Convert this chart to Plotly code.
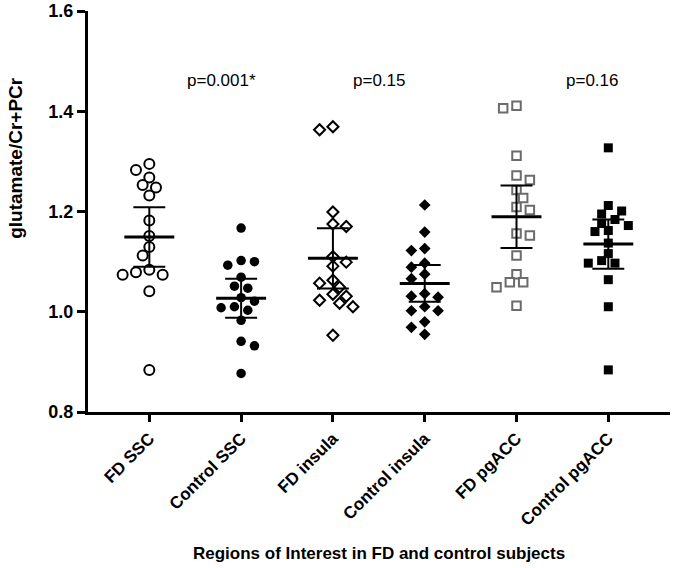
import numpy as np
import plotly.graph_objects as go

# ---------------- data ----------------
categories = ["FD SSC", "Control SSC", "FD insula", "Control insula", "FD pgACC", "Control pgACC"]

fd_ssc = [1.295, 1.283, 1.268, 1.253, 1.248, 1.232, 1.182, 1.151, 1.129, 1.112,
          1.079, 1.074, 1.074, 1.084, 1.041, 0.884]
control_ssc = [1.167, 1.100, 1.093, 1.102, 1.069, 1.051, 1.047, 1.028, 1.021, 1.008,
               1.003, 1.010, 0.983, 0.941, 0.932, 0.877]
fd_insula = [1.369, 1.363, 1.199, 1.175, 1.170, 1.110, 1.099, 1.091, 1.063, 1.057,
             1.049, 1.035, 1.031, 1.023, 1.017, 1.010, 0.953]
control_insula = [1.213, 1.159, 1.126, 1.122, 1.097, 1.089, 1.075, 1.066, 1.036, 1.029,
                  1.031, 1.010, 1.002, 1.002, 0.980, 0.969, 0.955]
fd_pgacc = [1.406, 1.411, 1.311, 1.272, 1.263, 1.243, 1.227, 1.203, 1.209, 1.156,
            1.152, 1.112, 1.075, 1.059, 1.049, 1.059, 1.012]
control_pgacc = [1.327, 1.212, 1.195, 1.201, 1.184, 1.176, 1.172, 1.162, 1.160, 1.137,
                 1.116, 1.097, 1.097, 1.102, 1.064, 1.010, 0.884]

p_values = ["p=0.001*", "p=0.15", "p=0.16"]
y_ticks = [0.8, 1.0, 1.2, 1.4, 1.6]

groups = [fd_ssc, control_ssc, fd_insula, control_insula, fd_pgacc, control_pgacc]

# two-sided 95% t critical values by degrees of freedom
T95 = {15: 2.131, 16: 2.120}

# ---------------- layout geometry ----------------
W, H = 675, 568
ML, MR, MT, MB = 88, 5, 11, 156
X_RANGE = [-0.668, 5.672]
Y_RANGE = [0.8, 1.6]
px_per_x = (W - ML - MR) / (X_RANGE[1] - X_RANGE[0])
px_per_y = (H - MT - MB) / (Y_RANGE[1] - Y_RANGE[0])


def swarm(values, d=9.5, step=6.67):
    vals = np.asarray(values, dtype=float)
    order = np.argsort(-vals, kind="stable")
    placed = []
    offsets = np.zeros(len(vals))
    for n, i in enumerate(order):
        y = vals[i] * px_per_y
        sign = -1 if n % 2 else 1
        cands = [0]
        for k in range(1, 8):
            cands += [sign * k * step, -sign * k * step]
        for x in cands:
            if all((x - a) ** 2 + (y - b) ** 2 >= d * d for a, b in placed):
                break
        placed.append((x, y))
        offsets[i] = x / px_per_x
    return offsets


styles = [
    dict(symbol="circle", size=10, color="white", line=dict(color="black", width=2)),
    dict(symbol="circle", size=9.5, color="black", line=dict(color="black", width=0)),
    dict(symbol="diamond", size=8.5, color="white", line=dict(color="black", width=2)),
    dict(symbol="diamond", size=9, color="black", line=dict(color="black", width=0)),
    dict(symbol="square", size=8.5, color="white", line=dict(color="#6b6b6b", width=2)),
    dict(symbol="square", size=9, color="black", line=dict(color="black", width=0)),
]

fig = go.Figure()

mean_x, mean_y, err_x, err_y = [], [], [], []
for gi, vals in enumerate(groups):
    off = swarm(vals)
    xs = gi + off
    fig.add_trace(go.Scatter(x=xs, y=vals, mode="markers", marker=styles[gi],
                             showlegend=False, hoverinfo="y", cliponaxis=False))
    arr = np.asarray(vals)
    n = len(arr)
    m = arr.mean()
    ci = T95[n - 1] * arr.std(ddof=1) / np.sqrt(n)
    mean_x += [gi - 0.272, gi + 0.272, None]
    mean_y += [m, m, None]
    err_x += [gi, gi, None, gi - 0.174, gi + 0.174, None, gi - 0.174, gi + 0.174, None]
    err_y += [m - ci, m + ci, None, m + ci, m + ci, None, m - ci, m - ci, None]

fig.add_trace(go.Scatter(x=err_x, y=err_y, mode="lines", line=dict(color="black", width=2),
                         showlegend=False, hoverinfo="skip"))
fig.add_trace(go.Scatter(x=mean_x, y=mean_y, mode="lines", line=dict(color="black", width=3),
                         showlegend=False, hoverinfo="skip"))

FONT = "Liberation Sans, Arial, sans-serif"

fig.update_layout(
    width=W, height=H,
    margin=dict(l=ML, r=MR, t=MT, b=MB),
    plot_bgcolor="white", paper_bgcolor="white",
    font=dict(family=FONT, color="black"),
    xaxis=dict(range=X_RANGE, tickmode="array", tickvals=list(range(len(categories))),
               ticktext=categories, tickangle=-45, showline=True, linecolor="black",
               linewidth=3, ticks="outside", ticklen=7, tickwidth=2.5, tickcolor="black",
               showgrid=False, zeroline=False, automargin=False,
               tickfont=dict(family=FONT, size=17, weight="bold", color="black")),
    yaxis=dict(range=Y_RANGE, tickmode="array", tickvals=y_ticks,
               ticktext=[f"{v:.1f}" for v in y_ticks], showline=True, linecolor="black",
               linewidth=3, ticks="outside", ticklen=8, tickwidth=2.5, tickcolor="black",
               showgrid=False, zeroline=False, automargin=False,
               ticklabeloverflow="allow",
               tickfont=dict(family=FONT, size=18, weight="bold", color="black")),
)

annotations = []
for txt, xp in zip(p_values, [0.79, 2.50, 4.82]):
    annotations.append(dict(x=xp, y=1.461, xref="x", yref="y", text=txt, showarrow=False,
                            font=dict(family=FONT, size=17, color="black"),
                            xanchor="center", yanchor="middle"))
annotations.append(dict(x=-0.126, y=0.633, xref="paper", yref="paper",
                        text="glutamate/Cr+PCr", textangle=-90, showarrow=False,
                        font=dict(family=FONT, size=19, weight="bold", color="black"),
                        xanchor="center", yanchor="middle"))
annotations.append(dict(x=0.5, y=-0.354, xref="paper", yref="paper",
                        text="Regions of Interest in FD and control subjects", showarrow=False,
                        font=dict(family=FONT, size=17, weight="bold", color="black"),
                        xanchor="center", yanchor="middle"))
fig.update_layout(annotations=annotations)

fig.write_html("out.html", config={"displayModeBar": False},
               post_script="document.body.style.margin='0';document.body.style.padding='0';")
